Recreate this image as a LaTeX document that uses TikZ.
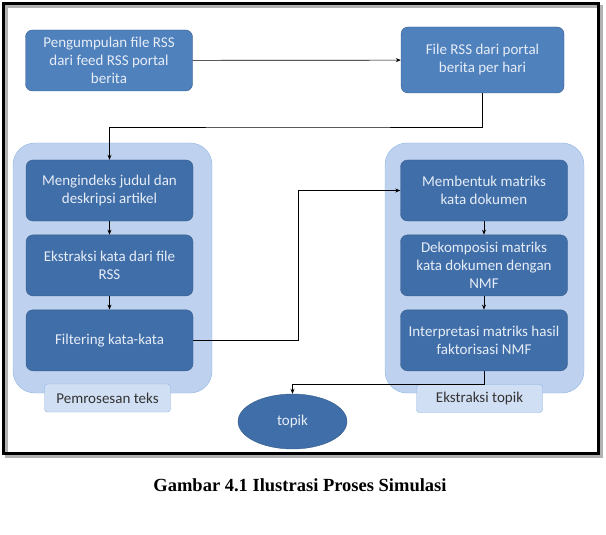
\documentclass[tikz,border=0pt]{standalone}
\usepackage{fontspec}
\setmainfont{Carlito}
\newfontfamily\judulfont{Liberation Serif}
\usetikzlibrary{positioning, arrows.meta, shapes.geometric}

\definecolor{biru}{RGB}{79,129,189}
\definecolor{birutua}{RGB}{64,110,168}
\definecolor{birutepi}{RGB}{56,93,138}
\definecolor{birumuda}{RGB}{190,210,240}
\definecolor{birumudatepi}{RGB}{142,180,227}
\definecolor{teksterang}{RGB}{230,237,247}

\begin{document}
\begin{tikzpicture}[x=1pt, y=-1pt,
    kotak/.style={draw=birutepi, fill=biru, rounded corners=7pt, align=center, text=teksterang, minimum width=167pt, minimum height=61pt, inner sep=2pt, font=\fontsize{15}{18}\selectfont},
    wadah/.style={draw=birumudatepi, fill=birumuda, rounded corners=22pt, minimum width=199pt, minimum height=250pt},
    judulgrup/.style={draw=birumudatepi, fill=birumuda!70!white, rounded corners=3pt, minimum width=126pt, minimum height=28pt, text=black!80, font=\fontsize{15}{17}\selectfont},
    seta/.style={-{Stealth[length=5pt, width=4pt]}, line width=0.7pt}
]
\useasboundingbox (0,0) rectangle (606,535);
% bingkai
\draw[black!30, line width=3pt] (6,7) rectangle (601,456);
\draw[line width=3pt] (3,4) rectangle (598,453);

\node[kotak] (pengumpulan) at (109,60.5) {Pengumpulan file RSS\\dari feed RSS portal\\berita};
\node[kotak, minimum width=163pt, minimum height=66pt] (fileRSS) at (482.5,60) {File RSS dari portal\\berita per hari};

% grup kiri dan kanan
\node[wadah] (grupkiri) at (112.5,268) {};
\node[wadah] (grupkanan) at (484.5,268) {};

\node[kotak, fill=birutua] (mengindeks) at (109.5,190.5) {Mengindeks judul dan\\deskripsi artikel};
\node[kotak, fill=birutua, below=13.5pt of mengindeks] (ekstraksi) {Ekstraksi kata dari file\\RSS};
\node[kotak, fill=birutua, below=13.5pt of ekstraksi] (filtering) {Filtering kata-kata};

\node[kotak, fill=birutua] (membentuk) at (484,190.5) {Membentuk matriks\\kata dokumen};
\node[kotak, fill=birutua, below=13.5pt of membentuk] (dekomposisi) {Dekomposisi matriks\\kata dokumen dengan\\NMF};
\node[kotak, fill=birutua, below=13.5pt of dekomposisi] (interpretasi) {Interpretasi matriks hasil\\faktorisasi NMF};

\node[judulgrup] (pemrosesan) at (107.5,398) {Pemrosesan teks};
\node[judulgrup] (ekstraksitopik) at (479.5,398.5) {Ekstraksi topik};

\node[ellipse, draw=birutepi, fill=birutua, minimum width=109pt, minimum height=55pt, text=teksterang, font=\fontsize{15}{17}\selectfont] (topik) at (292.5,421.5) {topik};

\coordinate (belok) at (300,127);
\draw[seta] (pengumpulan) -- (fileRSS);
\draw[seta] (fileRSS.south) |- (belok) -| (mengindeks.north);
\draw[seta] (mengindeks) -- (ekstraksi);
\draw[seta] (ekstraksi) -- (filtering);
\draw[seta] (filtering.east) -- ++(105,0) |- (membentuk.west);
\draw[seta] (membentuk) -- (dekomposisi);
\draw[seta] (dekomposisi) -- (interpretasi);
\draw[seta] (interpretasi.south) -- ++(0,13) -| (topik.north);

\node[font=\judulfont\bfseries\fontsize{18.5}{22}\selectfont] (judul) at (300,485) {Gambar 4.1 Ilustrasi Proses Simulasi};
\end{tikzpicture}
\end{document}
